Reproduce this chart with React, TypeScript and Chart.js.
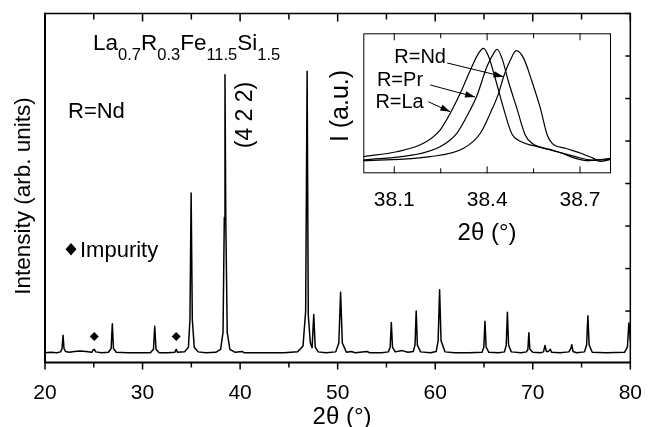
import React, { useEffect, useRef } from 'react';
import { Chart, registerables } from 'chart.js';

Chart.register(...registerables);

const FONT = '"Liberation Sans", Arial, Helvetica, sans-serif';

// ---- main XRD pattern (2θ in degrees, intensity in arb. units) ----
const twoTheta = [
  20.0, 20.6, 21.2, 21.6, 21.75, 21.85, 21.95, 22.1, 22.5, 23.0, 23.6, 24.2, 24.8, 24.95, 25.05, 25.2,
  25.8, 26.5, 26.78, 26.9, 27.02, 27.3, 28.5, 29.6, 30.8, 31.12, 31.25, 31.38, 31.7, 32.6, 33.3, 33.45,
  33.6, 34.3, 34.7, 34.86, 34.98, 35.1, 35.3, 35.7, 36.5, 37.5, 38.0, 38.25, 38.38, 38.45, 38.53, 38.68,
  38.95, 39.5, 40.2, 40.4, 41.5, 43.0, 44.5, 45.9, 46.45, 46.72, 46.87, 46.99, 47.2, 47.38, 47.55, 47.7,
  48.0, 48.8, 49.8, 50.12, 50.3, 50.48, 50.9, 51.4, 51.8, 53.0, 53.3, 54.5, 55.2, 55.38, 55.5, 55.62,
  55.9, 56.6, 57.2, 57.75, 57.93, 58.05, 58.17, 58.5, 59.5, 60.1, 60.3, 60.45, 60.6, 61.0, 62.0, 63.5,
  64.8, 64.98, 65.1, 65.22, 65.5, 66.5, 67.1, 67.28, 67.4, 67.52, 67.8, 68.8, 69.35, 69.5, 69.6, 69.7,
  70.0, 70.8, 71.1, 71.25, 71.4, 71.6, 71.8, 71.95, 72.8, 73.7, 73.9, 74.0, 74.12, 74.5, 75.3, 75.52,
  75.65, 75.78, 76.1, 77.5, 79.4, 79.7, 79.85, 79.95, 80.0,
];
const intensity = [
  0.02, 0.03, 0.02, 0.04, 0.12, 0.43, 0.12, 0.05, 0.03, 0.05, 0.06, 0.05, 0.03, 0.09, 0.1, 0.04,
  0.02, 0.03, 0.12, 0.7, 0.12, 0.03, 0.02, 0.02, 0.02, 0.1, 0.64, 0.1, 0.02, 0.02, 0.03, 0.1,
  0.03, 0.04, 0.15, 0.8, 3.78, 0.8, 0.15, 0.04, 0.02, 0.03, 0.1, 0.5, 3.2, 6.56, 3.2, 0.5,
  0.1, 0.03, 0.05, 0.02, 0.02, 0.02, 0.02, 0.04, 0.18, 1.0, 6.64, 0.9, 0.25, 0.14, 0.92, 0.15,
  0.04, 0.02, 0.04, 0.25, 1.44, 0.25, 0.03, 0.05, 0.02, 0.05, 0.02, 0.02, 0.04, 0.15, 0.73, 0.15,
  0.04, 0.07, 0.03, 0.05, 0.2, 1.0, 0.2, 0.04, 0.02, 0.05, 0.3, 1.5, 0.3, 0.04, 0.02, 0.02,
  0.03, 0.15, 0.76, 0.15, 0.03, 0.02, 0.04, 0.2, 0.97, 0.2, 0.04, 0.02, 0.04, 0.1, 0.49, 0.1,
  0.03, 0.02, 0.04, 0.19, 0.05, 0.05, 0.1, 0.03, 0.02, 0.04, 0.12, 0.21, 0.05, 0.02, 0.04, 0.2,
  0.89, 0.2, 0.03, 0.02, 0.03, 0.15, 0.72, 0.5, 0.3,
];

const impurityTwoTheta = [25.05, 33.45];
const impurityMark = [0.4, 0.4];

const xTickValues = [20, 25, 30, 35, 40, 45, 50, 55, 60, 65, 70, 75, 80];
const xTickLabels = ['20', '', '30', '', '40', '', '50', '', '60', '', '70', '', '80'];
const yTickValues = [1, 2, 3, 4, 5, 6, 7, 8];

// ---- inset: (4 2 2) peak for R = La, Pr, Nd ----
const laTwoTheta = [38.0, 38.108, 38.194, 38.248, 38.281, 38.313, 38.346, 38.372, 38.388, 38.405, 38.426, 38.453, 38.48, 38.502, 38.577, 38.642, 38.685, 38.728, 38.771, 38.8];
const laI = [0.119, 0.154, 0.214, 0.309, 0.429, 0.571, 0.738, 0.857, 0.893, 0.833, 0.679, 0.464, 0.28, 0.235, 0.183, 0.143, 0.107, 0.09, 0.095, 0.1];
const prTwoTheta = [38.0, 38.162, 38.248, 38.302, 38.345, 38.367, 38.399, 38.421, 38.432, 38.448, 38.469, 38.496, 38.523, 38.545, 38.61, 38.685, 38.739, 38.8];
const prI = [0.095, 0.131, 0.19, 0.286, 0.452, 0.554, 0.761, 0.857, 0.886, 0.821, 0.654, 0.464, 0.274, 0.214, 0.166, 0.119, 0.095, 0.107];
const ndTwoTheta = [38.0, 38.216, 38.324, 38.378, 38.41, 38.437, 38.453, 38.475, 38.494, 38.518, 38.545, 38.572, 38.594, 38.61, 38.653, 38.707, 38.74, 38.765, 38.8];
const ndI = [0.09, 0.119, 0.179, 0.286, 0.429, 0.571, 0.69, 0.809, 0.876, 0.821, 0.654, 0.464, 0.274, 0.214, 0.179, 0.14, 0.11, 0.085, 0.1];

const insetTickValues = [38.1, 38.25, 38.4, 38.55, 38.7];
const insetTickLabels = ['38.1', '', '38.4', '', '38.7'];

const insetLabels = ['R=Nd', 'R=Pr', 'R=La'];
const insetLabelX = [38.1, 38.044, 38.039];
const insetLabelY = [0.826, 0.664, 0.507];
const arrowFromX = [38.271, 38.216, 38.21];
const arrowFromY = [0.788, 0.631, 0.511];
const arrowToX = [38.453, 38.361, 38.281];
const arrowToY = [0.69, 0.545, 0.44];

const pts = (xs: number[], ys: number[]) => xs.map((x, i) => ({ x, y: ys[i] }));

function line(ctx: CanvasRenderingContext2D, x1: number, y1: number, x2: number, y2: number) {
  ctx.beginPath();
  ctx.moveTo(x1, y1);
  ctx.lineTo(x2, y2);
  ctx.stroke();
}

function rotatedText(ctx: CanvasRenderingContext2D, text: string, x: number, y: number, size: number) {
  ctx.save();
  ctx.translate(x, y);
  ctx.rotate(-Math.PI / 2);
  ctx.font = `${size}px ${FONT}`;
  ctx.textAlign = 'center';
  ctx.textBaseline = 'alphabetic';
  ctx.fillText(text, 0, 0);
  ctx.restore();
}

const mainDecor = {
  id: 'mainDecor',
  afterDraw(chart: any) {
    const ctx: CanvasRenderingContext2D = chart.ctx;
    const { left, right, top, bottom } = chart.chartArea;
    const xs = chart.scales.x;
    const ys = chart.scales.y;
    ctx.save();
    ctx.strokeStyle = '#000';
    ctx.fillStyle = '#000';
    ctx.lineWidth = 1.5;
    ctx.beginPath();
    ctx.moveTo(left, top);
    ctx.lineTo(right, top);
    ctx.lineTo(right, bottom);
    ctx.stroke();
    ctx.lineWidth = 2;
    ctx.beginPath();
    ctx.moveTo(left, top - 0.75);
    ctx.lineTo(left, bottom);
    ctx.lineTo(right + 0.75, bottom);
    ctx.stroke();

    ctx.lineWidth = 1.5;
    xTickValues.forEach((v, i) => {
      const px = xs.getPixelForValue(v);
      const major = xTickLabels[i] !== '';
      line(ctx, px, bottom, px, bottom + (major ? 7 : 5));
      line(ctx, px, top, px, top + (major ? 8 : 6));
    });
    yTickValues.forEach((v) => {
      const py = ys.getPixelForValue(v);
      line(ctx, right, py, right - 5, py);
    });

    // formula title with subscripts
    const parts: [string, boolean][] = [
      ['La', false], ['0.7', true], ['R', false], ['0.3', true],
      ['Fe', false], ['11.5', true], ['Si', false], ['1.5', true],
    ];
    let cx = 93;
    ctx.textAlign = 'left';
    ctx.textBaseline = 'alphabetic';
    parts.forEach(([t, sub]) => {
      ctx.font = sub ? `16.5px ${FONT}` : `22.5px ${FONT}`;
      ctx.fillText(t, cx, sub ? 60 : 50);
      cx += ctx.measureText(t).width;
    });

    ctx.font = `22px ${FONT}`;
    ctx.fillText('R=Nd', 68, 118);

    // impurity key
    ctx.beginPath();
    ctx.moveTo(71, 243);
    ctx.lineTo(76.5, 249.2);
    ctx.lineTo(71, 255.4);
    ctx.lineTo(65.5, 249.2);
    ctx.closePath();
    ctx.fill();
    ctx.fillText('Impurity', 80, 257);

    rotatedText(ctx, '(4 2 2)', 252, 115, 23);
    rotatedText(ctx, 'Intensity (arb. units)', 30, 196, 22.5);

    ctx.font = `24px ${FONT}`;
    ctx.textAlign = 'center';
    ctx.fillText('2θ (°)', 342, 424);
    ctx.fillText('2θ (°)', 487, 240);
    rotatedText(ctx, 'I (a.u.)', 348, 106, 25);
    ctx.restore();
  },
};

const insetDecor = {
  id: 'insetDecor',
  afterDraw(chart: any) {
    const ctx: CanvasRenderingContext2D = chart.ctx;
    const { left, right, top, bottom } = chart.chartArea;
    const xs = chart.scales.x;
    const ys = chart.scales.y;
    ctx.save();
    ctx.strokeStyle = '#000';
    ctx.fillStyle = '#000';
    ctx.lineWidth = 1;
    ctx.strokeRect(left + 0.5, top + 0.5, right - left - 1, bottom - top - 1);
    insetTickValues.forEach((v, i) => {
      const px = xs.getPixelForValue(v);
      const major = insetTickLabels[i] !== '';
      line(ctx, px, bottom, px, bottom - (major ? 7 : 5));
      line(ctx, px, top, px, top + (major ? 7 : 5));
    });
    ctx.font = `20px ${FONT}`;
    ctx.textAlign = 'left';
    ctx.textBaseline = 'middle';
    insetLabels.forEach((t, i) => {
      ctx.fillText(t, xs.getPixelForValue(insetLabelX[i]), ys.getPixelForValue(insetLabelY[i]));
      const x1 = xs.getPixelForValue(arrowFromX[i]);
      const y1 = ys.getPixelForValue(arrowFromY[i]);
      const x2 = xs.getPixelForValue(arrowToX[i]);
      const y2 = ys.getPixelForValue(arrowToY[i]);
      ctx.lineWidth = 1;
      line(ctx, x1, y1, x2, y2);
      const a = Math.atan2(y2 - y1, x2 - x1);
      const L = 10, W = 3.2;
      ctx.beginPath();
      ctx.moveTo(x2, y2);
      ctx.lineTo(x2 - L * Math.cos(a) + W * Math.sin(a), y2 - L * Math.sin(a) - W * Math.cos(a));
      ctx.lineTo(x2 - L * Math.cos(a) - W * Math.sin(a), y2 - L * Math.sin(a) + W * Math.cos(a));
      ctx.closePath();
      ctx.fill();
    });
    ctx.restore();
  },
};

export default function App() {
  const mainRef = useRef<HTMLCanvasElement>(null);
  const insetRef = useRef<HTMLCanvasElement>(null);

  useEffect(() => {
    const main = new Chart(mainRef.current!, {
      type: 'line',
      data: {
        datasets: [
          {
            data: pts(twoTheta, intensity),
            borderColor: '#000',
            borderWidth: 1.5,
            borderJoinStyle: 'round',
            pointRadius: 0,
            tension: 0,
          },
          {
            data: pts(impurityTwoTheta, impurityMark),
            showLine: false,
            pointStyle: 'rectRot',
            pointRadius: 4.5,
            pointBackgroundColor: '#000',
            pointBorderColor: '#000',
            borderWidth: 0,
          },
        ],
      } as any,
      options: {
        animation: false,
        responsive: false,
        maintainAspectRatio: false,
        devicePixelRatio: 1,
        layout: { padding: { top: 13.5, right: 13, left: 0, bottom: 0 } },
        plugins: { legend: { display: false }, tooltip: { enabled: false } },
        scales: {
          x: {
            type: 'linear',
            min: 20,
            max: 80,
            afterBuildTicks: (s: any) => { s.ticks = xTickValues.map((v) => ({ value: v })); },
            afterFit: (s: any) => { s.height = 64.5; },
            grid: { display: false },
            border: { display: false },
            ticks: {
              autoSkip: false,
              maxRotation: 0,
              padding: 10,
              color: '#000',
              font: { family: FONT, size: 21 },
              callback: (_v: any, i: number) => xTickLabels[i],
            },
          },
          y: {
            type: 'linear',
            min: -0.21,
            max: 8,
            afterBuildTicks: (s: any) => { s.ticks = yTickValues.map((v) => ({ value: v })); },
            afterFit: (s: any) => { s.width = 45; },
            grid: { display: false },
            border: { display: false },
            ticks: { display: false },
          },
        },
      } as any,
      plugins: [mainDecor],
    });

    const lineDs = (xs: number[], ys: number[]) => ({
      data: pts(xs, ys),
      borderColor: '#000',
      borderWidth: 1.2,
      pointRadius: 0,
      cubicInterpolationMode: 'monotone',
    });

    const inset = new Chart(insetRef.current!, {
      type: 'line',
      data: {
        datasets: [lineDs(laTwoTheta, laI), lineDs(prTwoTheta, prI), lineDs(ndTwoTheta, ndI)],
      } as any,
      options: {
        animation: false,
        responsive: false,
        maintainAspectRatio: false,
        devicePixelRatio: 1,
        layout: { padding: { top: 13.3, right: 14, left: 0, bottom: 0 } },
        plugins: { legend: { display: false }, tooltip: { enabled: false } },
        scales: {
          x: {
            type: 'linear',
            min: 38.0,
            max: 38.8,
            afterBuildTicks: (s: any) => { s.ticks = insetTickValues.map((v) => ({ value: v })); },
            afterFit: (s: any) => { s.height = 76.7; },
            grid: { display: false },
            border: { display: false },
            ticks: {
              autoSkip: false,
              maxRotation: 0,
              padding: 6,
              color: '#000',
              font: { family: FONT, size: 21 },
              callback: (_v: any, i: number) => insetTickLabels[i],
            },
          },
          y: {
            type: 'linear',
            min: 0,
            max: 1,
            afterFit: (s: any) => { s.width = 43.3; },
            grid: { display: false },
            border: { display: false },
            ticks: { display: false },
          },
        },
      } as any,
      plugins: [insetDecor],
    });

    return () => {
      main.destroy();
      inset.destroy();
    };
  }, []);

  return (
    <div style={{ position: 'fixed', left: 0, top: 0, width: 652, height: 427, background: '#fff' }}>
      <canvas
        ref={mainRef}
        width={652}
        height={427}
        style={{ position: 'absolute', left: 0, top: 0, width: 652, height: 427 }}
      />
      <canvas
        ref={insetRef}
        width={305}
        height={230}
        style={{ position: 'absolute', left: 320, top: 20, width: 305, height: 230 }}
      />
    </div>
  );
}
